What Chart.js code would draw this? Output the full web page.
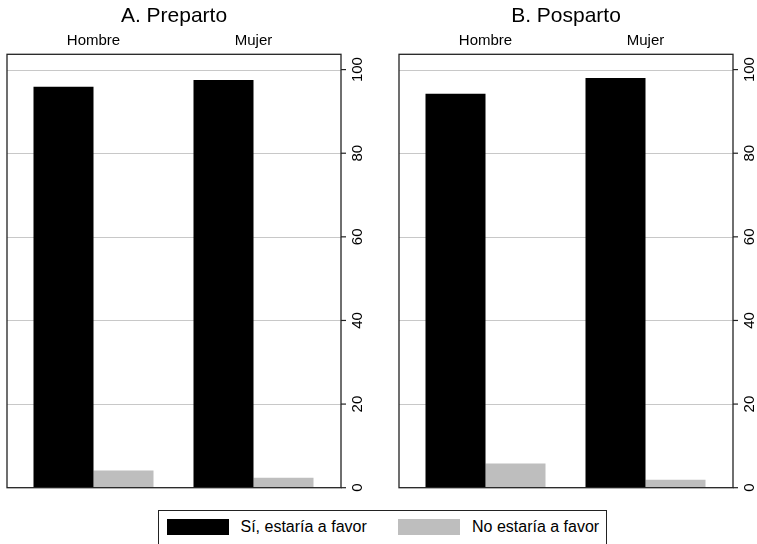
<!DOCTYPE html>
<html>
<head>
<meta charset="utf-8">
<script src="https://cdn.jsdelivr.net/npm/chart.js@4/dist/chart.umd.min.js"></script>
<style>
html, body { margin: 0; padding: 0; background: #fff; overflow: hidden; }
#wrap { position: relative; width: 757px; height: 544px; overflow: hidden; background: #fff;
        font-family: "Liberation Sans", Arial, sans-serif; }
.panel { position: absolute; top: 0; width: 380px; height: 500px; }
#legend { position: absolute; left: 158px; top: 510px; width: 449px; height: 44px;
          border: 1.3px solid #222; box-sizing: border-box; background: #fff; }
.item { position: absolute; top: 8px; height: 16px; display: flex; align-items: center; white-space: nowrap; }
.sw { width: 62px; height: 16px; margin-right: 12px; }
.lt { font-size: 16px; color: #000; line-height: 16px; }
</style>
</head>
<body>
<div id="wrap">
  <canvas id="cA" class="panel" width="380" height="500" style="left:0px"></canvas>
  <canvas id="cB" class="panel" width="380" height="500" style="left:392px"></canvas>
  <div id="legend"></div>
</div>
<script>
// ---- data ----
const categories = ['Hombre', 'Mujer'];
const panelTitles = ['A. Preparto', 'B. Posparto'];
const seriesNames = ['Sí, estaría a favor', 'No estaría a favor'];
const preparto_si = [95.9, 97.5];
const preparto_no = [4.1, 2.4];
const posparto_si = [94.2, 98.0];
const posparto_no = [5.8, 1.9];
const yTicks = [0, 20, 40, 60, 80, 100];
const yMax = 103.66;

// ---- styles ----
const seriesColors = ['#000000', '#bebebe'];
const FONT = '"Liberation Sans", Arial, sans-serif';

const framePlugin = {
  id: 'frame',
  beforeDatasetsDraw(chart) {
    const { ctx, chartArea, scales } = chart;
    const y = scales.y;
    const L = chartArea.left - 6.5, R = chartArea.right + 7.5;
    ctx.save();
    ctx.strokeStyle = '#c8c8c8';
    ctx.lineWidth = 1;
    yTicks.forEach(v => {
      if (v === 0) return;
      const py = Math.round(y.getPixelForValue(v)) + 0.5;
      ctx.beginPath(); ctx.moveTo(L, py); ctx.lineTo(R, py); ctx.stroke();
    });
    ctx.restore();
  },
  afterDatasetsDraw(chart, args, opts) {
    const { ctx, chartArea, scales } = chart;
    const y = scales.y;
    const L = chartArea.left - 6.5, R = chartArea.right + 7.5;
    const T = chartArea.top, B = chartArea.bottom;
    ctx.save();
    // panel title centred over the plot box
    ctx.fillStyle = '#000';
    ctx.font = '21px ' + FONT;
    ctx.textAlign = 'center';
    ctx.textBaseline = 'middle';
    ctx.fillText(opts.title || '', (L + R) / 2, 16.6);
    // frame
    ctx.strokeStyle = '#222';
    ctx.lineWidth = 1.3;
    ctx.strokeRect(L, T, R - L, B - T);
    ctx.lineWidth = 1.2;
    ctx.font = '15px ' + FONT;
    yTicks.forEach(v => {
      const py = y.getPixelForValue(v);
      ctx.beginPath(); ctx.moveTo(R, py); ctx.lineTo(R + 5, py); ctx.stroke();
      ctx.save();
      ctx.translate(R + 17, py);
      ctx.rotate(-Math.PI / 2);
      ctx.fillText(String(v), 0, 0);
      ctx.restore();
    });
    ctx.restore();
  }
};

function makePanel(id, title, si, no) {
  return new Chart(document.getElementById(id), {
    type: 'bar',
    data: {
      labels: categories,
      datasets: [
        { label: seriesNames[0], data: si, backgroundColor: seriesColors[0], borderWidth: 0 },
        { label: seriesNames[1], data: no, backgroundColor: seriesColors[1], borderWidth: 0 }
      ]
    },
    options: {
      responsive: false,
      animation: false,
      devicePixelRatio: 1,
      layout: { padding: { left: 13.5, right: 0, top: 29.2, bottom: 12.3 } },
      datasets: { bar: { barPercentage: 1.0, categoryPercentage: 0.75 } },
      plugins: {
        legend: { display: false },
        tooltip: { enabled: false },
        title: { display: false },
        frame: { title: title }
      },
      scales: {
        x: {
          position: 'top',
          grid: { display: false, drawTicks: false },
          border: { display: false },
          ticks: { color: '#000', font: { family: FONT, size: 15 }, padding: 4, maxRotation: 0, autoSkip: false },
          afterFit(s) { s.height = 25.1; }
        },
        y: {
          position: 'right',
          min: 0, max: yMax,
          grid: { display: false, drawTicks: false },
          border: { display: false },
          ticks: { display: false },
          afterFit(s) { s.width = 46.5; }
        }
      }
    },
    plugins: [framePlugin]
  });
}

makePanel('cA', panelTitles[0], preparto_si, preparto_no);
makePanel('cB', panelTitles[1], posparto_si, posparto_no);

// legend
const leg = document.getElementById('legend');
const itemLeft = [7.5, 239];
seriesNames.forEach((name, i) => {
  const it = document.createElement('div');
  it.className = 'item';
  it.style.left = itemLeft[i] + 'px';
  const sw = document.createElement('div');
  sw.className = 'sw';
  sw.style.background = seriesColors[i];
  const t = document.createElement('span');
  t.className = 'lt';
  t.textContent = name;
  it.appendChild(sw); it.appendChild(t);
  leg.appendChild(it);
});
</script>
</body>
</html>
